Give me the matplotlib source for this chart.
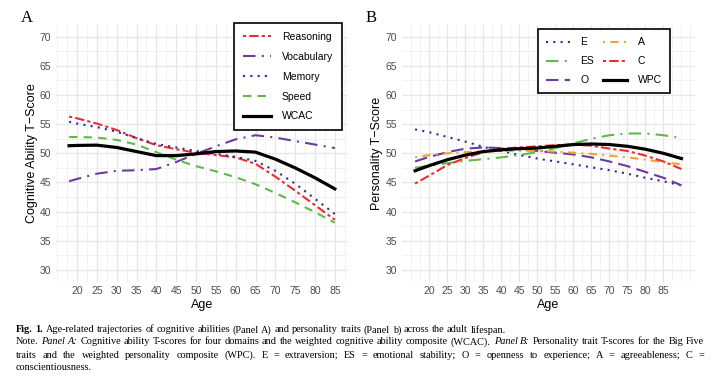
import matplotlib
matplotlib.use("Agg")
import matplotlib.pyplot as plt
import numpy as np

plt.rcParams['font.family'] = ['Liberation Sans', 'DejaVu Sans']

# panel A - cognitive abilities
ages_a = [18, 20, 25, 30, 35, 40, 45, 50, 55, 60, 65, 70, 75, 80, 85]
reasoning = [56.3, 56.0, 55.1, 54.0, 52.6, 51.4, 50.7, 50.1, 49.7, 49.3, 48.2, 46.0, 43.6, 41.1, 38.6]
vocabulary = [45.2, 45.6, 46.5, 47.0, 47.1, 47.3, 48.5, 49.9, 51.2, 52.4, 53.1, 52.7, 52.1, 51.5, 50.9]
memory = [55.4, 55.1, 54.5, 53.7, 52.6, 51.6, 51.0, 50.4, 49.9, 49.4, 48.7, 47.0, 44.8, 42.2, 39.6]
speed = [52.8, 52.8, 52.7, 52.3, 51.5, 50.2, 48.9, 47.8, 46.9, 45.9, 44.7, 43.2, 41.6, 39.9, 38.1]
wcac = [51.3, 51.35, 51.4, 51.0, 50.3, 49.6, 49.6, 49.9, 50.3, 50.4, 50.2, 49.0, 47.5, 45.8, 43.9]

# panel B - personality traits
ages_b = [16, 20, 25, 30, 35, 40, 45, 50, 55, 60, 65, 70, 75, 80, 85, 90]
trait_e = [54.1, 53.6, 52.8, 52.0, 51.1, 50.4, 49.7, 49.1, 48.6, 48.1, 47.6, 47.1, 46.5, 45.8, 45.2, 44.5]
trait_a = [49.3, 49.7, 50.0, 50.2, 50.35, 50.4, 50.45, 50.4, 50.3, 50.1, 49.9, 49.6, 49.3, 48.9, 48.5, 48.1]
trait_c = [44.8, 46.2, 48.0, 49.2, 50.2, 50.8, 51.0, 51.2, 51.4, 51.5, 51.3, 50.8, 50.4, 49.6, 48.6, 47.3]
trait_es = [47.5, 47.9, 48.3, 48.7, 49.0, 49.3, 49.7, 50.2, 50.9, 51.7, 52.5, 53.1, 53.4, 53.4, 53.1, 52.6]
trait_o = [48.6, 49.4, 50.2, 50.8, 51.0, 50.9, 50.7, 50.4, 50.1, 49.8, 49.3, 48.6, 47.8, 46.8, 45.8, 44.5]
wpc = [47.0, 47.9, 48.9, 49.7, 50.3, 50.6, 50.8, 50.9, 51.2, 51.5, 51.6, 51.5, 51.2, 50.7, 50.0, 49.1]

x_ticks = list(range(20, 90, 5))
y_ticks = list(range(30, 75, 5))

RED = "#EE2C2C"
PURPLE = "#6A3D9A"
NAVY = "#2E2E96"
GREEN = "#5DBB46"
ORANGE = "#F5A030"

TWODASH = (0, (1.5, 1.5, 4.5, 1.5))
LONGDASH = (0, (6, 3))
DOTTED = (0, (1, 2.5))
DASHED = (0, (4, 3))
DOTDASH = (0, (1, 2.5, 4, 2.5))
LONGDASHDOT = (0, (6, 3, 1, 3))


def style_axes(ax, xmin, xmax):
    ax.set_xlim(xmin, xmax)
    ax.set_ylim(28, 72)
    ax.set_xticks(x_ticks)
    ax.set_yticks(y_ticks)
    ax.set_xticks(np.arange(15, xmax, 2.5), minor=True)
    ax.set_yticks(np.arange(32.5, 70, 5), minor=True)
    ax.grid(which="major", color="#E6E6E6", lw=0.9)
    ax.grid(which="minor", color="#EFEFEF", lw=0.6)
    ax.set_axisbelow(True)
    for s in ax.spines.values():
        s.set_visible(False)
    ax.tick_params(which="both", length=0, labelsize=7.5, labelcolor="#4D4D4D", pad=3.5)
    ax.set_xlabel("Age", fontsize=9, labelpad=2)


def boxed_legend(ax, anchor, **kw):
    leg = ax.legend(loc="upper right", bbox_to_anchor=anchor, borderaxespad=0,
                    fontsize=7.5, fancybox=False, framealpha=1, **kw)
    leg.get_frame().set_edgecolor("black")
    leg.get_frame().set_linewidth(1.2)
    return leg


fig = plt.figure(figsize=(7.2, 3.79), dpi=100)
ax1 = fig.add_axes([0.0775, 0.257, 0.406, 0.677])
ax2 = fig.add_axes([0.558, 0.257, 0.407, 0.677])

# panel A
style_axes(ax1, 14.65, 88.35)
ax1.plot(ages_a, reasoning, color=RED, lw=1.5, ls=TWODASH, label="Reasoning")
ax1.plot(ages_a, vocabulary, color=PURPLE, lw=1.5, ls=LONGDASHDOT, label="Vocabulary")
ax1.plot(ages_a, memory, color=NAVY, lw=1.5, ls=DOTTED, label="Memory")
ax1.plot(ages_a, speed, color=GREEN, lw=1.5, ls=DASHED, label="Speed")
ax1.plot(ages_a, wcac, color="black", lw=2.3, label="WCAC")
ax1.set_ylabel("Cognitive Ability T\u2212Score", fontsize=9, labelpad=1)
boxed_legend(ax1, (0.979, 1.008), handlelength=2.7, labelspacing=0.95,
             handletextpad=1.05, borderpad=0.85)

# panel B
style_axes(ax2, 12.3, 93.7)
ax2.plot(ages_b, trait_e, color=NAVY, lw=1.5, ls=DOTTED, label="E")
ax2.plot(ages_b, trait_es, color=GREEN, lw=1.5, ls=LONGDASHDOT, label="ES")
ax2.plot(ages_b, trait_o, color=PURPLE, lw=1.5, ls=LONGDASH, label="O")
ax2.plot(ages_b, trait_a, color=ORANGE, lw=1.5, ls=DOTDASH, label="A")
ax2.plot(ages_b, trait_c, color=RED, lw=1.5, ls=TWODASH, label="C")
ax2.plot(ages_b, wpc, color="black", lw=2.3, label="WPC")
ax2.set_ylabel("Personality T\u2212Score", fontsize=9, labelpad=2)
boxed_legend(ax2, (0.916, 0.984), ncol=2, handlelength=2.3, labelspacing=0.85,
             handletextpad=1.0, columnspacing=0.9, borderpad=0.8)

fig.text(27 / 720, 1 - 18 / 379, "A", family="Liberation Serif", fontsize=12, ha="center", va="center")
fig.text(371 / 720, 1 - 18 / 379, "B", family="Liberation Serif", fontsize=12, ha="center", va="center")

# caption, justified word by word
CAP_SIZE = 7.4
caption = [
    ([("Fig. 1.", "bold"), ("Age-related trajectories of cognitive abilities (Panel A) and personality traits "
                           "(Panel b) across the adult lifespan.", "normal")], False),
    ([("Note.", "normal"), ("Panel A:", "italic"), ("Cognitive ability T-scores for four domains and the weighted "
                                                   "cognitive ability composite (WCAC).", "normal"),
      ("Panel B:", "italic"), ("Personality trait T-scores for the Big Five", "normal")], True),
    ([("traits and the weighted personality composite (WPC). E = extraversion; ES = emotional stability; "
       "O = openness to experience; A = agreeableness; C =", "normal")], True),
    ([("conscientiousness.", "normal")], False),
]
line_y = [330, 342, 355, 367]

fig.canvas.draw()
renderer = fig.canvas.get_renderer()
x0, x1 = 16, 704
for (segments, justify), ypix in zip(caption, line_y):
    words = []
    for text, style in segments:
        for w in text.split(" "):
            words.append((w, style))
    items = []
    for w, style in words:
        t = fig.text(0, 1 - ypix / 379, w, family="Liberation Serif", fontsize=CAP_SIZE,
                     fontweight="bold" if style == "bold" else "normal",
                     fontstyle="italic" if style == "italic" else "normal", va="center")
        items.append((t, t.get_window_extent(renderer).width))
    total = sum(wd for _, wd in items)
    if justify:
        gap = (x1 - x0 - total) / (len(items) - 1)
    else:
        gap = CAP_SIZE * 100 / 72 * 0.25
    x = x0
    for t, wd in items:
        t.set_x(x / 720)
        x += wd + gap

fig.savefig("out.png", dpi=100)
